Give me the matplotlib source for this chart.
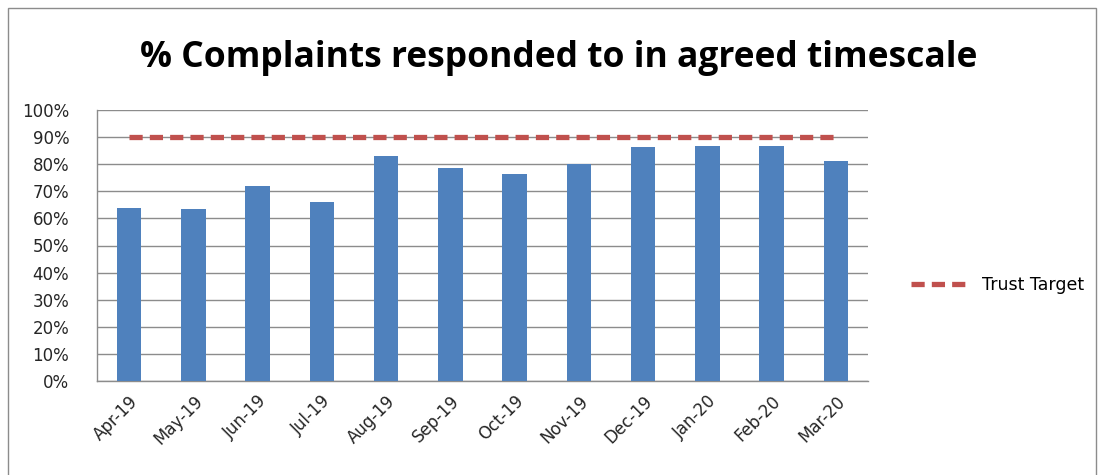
import matplotlib.pyplot as plt
from matplotlib.patches import Rectangle
from matplotlib.ticker import FuncFormatter

months = ["Apr-19", "May-19", "Jun-19", "Jul-19", "Aug-19", "Sep-19",
          "Oct-19", "Nov-19", "Dec-19", "Jan-20", "Feb-20", "Mar-20"]
pct_responded = [63.8, 63.3, 72.0, 65.9, 83.1, 78.5, 76.4, 80.2, 86.3, 86.9, 86.9, 81.0]
trust_target = [90] * 12

BAR_BLUE = "#4F81BD"
TARGET_RED = "#C0504D"
GRID_GREY = "#8C8C8C"

plt.rcParams["font.family"] = ["DejaVu Sans"]

fig = plt.figure(figsize=(11.01, 4.75), dpi=100)
ax = fig.add_axes([97 / 1101, 1 - 381 / 475, (868 - 97) / 1101, (381 - 110) / 475])

x = list(range(len(months)))
ax.bar(x, pct_responded, width=0.38, color=BAR_BLUE, zorder=3)
ax.plot(x, trust_target, color=TARGET_RED, lw=3.8, dashes=(2.5, 1.35),
        dash_capstyle="butt", zorder=4, label="Trust Target")

ax.set_xlim(-0.5, len(months) - 0.5)
ax.set_ylim(0, 100)
ax.set_yticks(range(0, 101, 10))
ax.yaxis.set_major_formatter(FuncFormatter(lambda v, p: f"{v:.0f}%"))
ax.set_xticks(x)
ax.set_xticklabels(months, rotation=45, ha="right", rotation_mode="anchor")
ax.tick_params(axis="both", length=0, labelsize=12, colors="#262626")
ax.tick_params(axis="x", pad=8)
ax.tick_params(axis="y", pad=20)

ax.grid(axis="y", color=GRID_GREY, lw=1, zorder=0)
for side in ["top", "right"]:
    ax.spines[side].set_visible(False)
for side in ["left", "bottom"]:
    ax.spines[side].set_color(GRID_GREY)
    ax.spines[side].set_linewidth(1)

fig.text(559 / 1101, 1 - 58 / 475, "% Complaints responded to in agreed timescale",
         ha="center", va="center", fontsize=25.5, fontweight="bold",
         color="#000000", family=["Open Sans", "DejaVu Sans"])

fig.legend(loc="center left", bbox_to_anchor=(895 / 1101, 1 - 285 / 475),
           frameon=False, fontsize=12.5, handlelength=3.4, handletextpad=0.7)

# chart area border
fig.patches.append(Rectangle((8 / 1101, -0.05), (1096 - 8) / 1101, 1 - 8 / 475 + 0.05,
                             transform=fig.transFigure, fill=False,
                             edgecolor="#8C8C8C", lw=1))

fig.savefig("out.png", dpi=100)
